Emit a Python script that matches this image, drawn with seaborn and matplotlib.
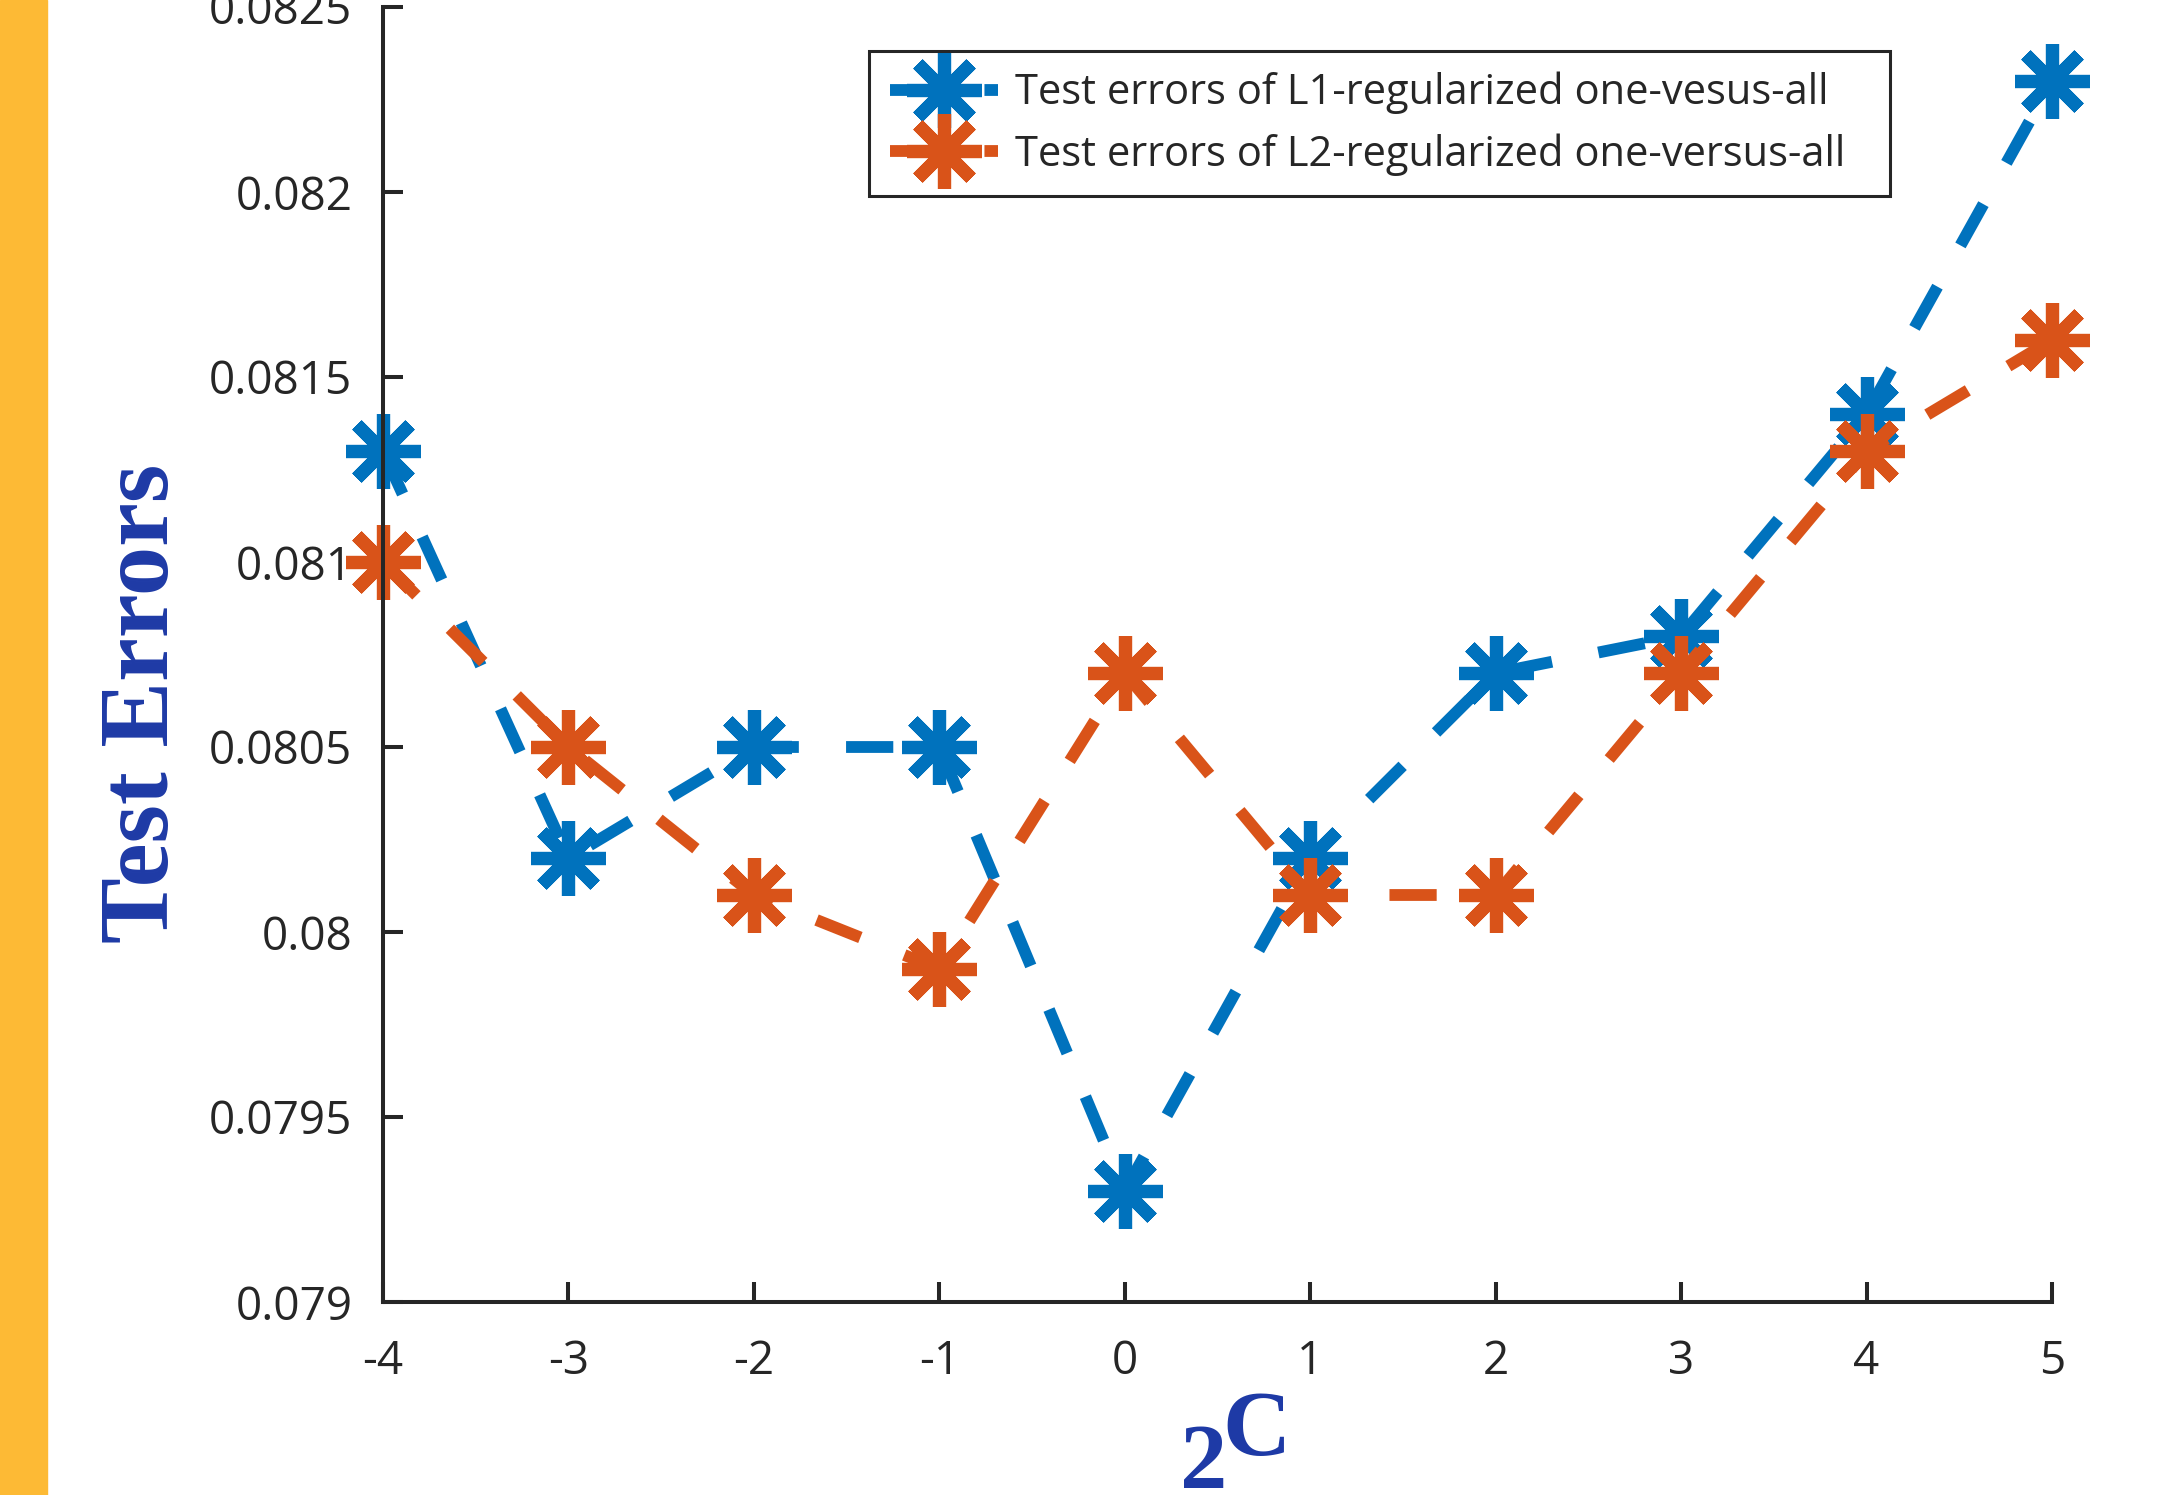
import matplotlib
matplotlib.use("Agg")
import matplotlib.pyplot as plt
import seaborn as sns
import pandas as pd
from matplotlib.lines import Line2D
from matplotlib.patches import Rectangle

# data
log2_c = [-4, -3, -2, -1, 0, 1, 2, 3, 4, 5]
l1_errors = [0.0813, 0.0802, 0.0805, 0.0805, 0.0793, 0.0802, 0.0807, 0.0808, 0.0814, 0.0823]
l2_errors = [0.0810, 0.0805, 0.0801, 0.0799, 0.0807, 0.0801, 0.0801, 0.0807, 0.0813, 0.0816]
series_names = [
    "Test errors of L1-regularized one-vesus-all",
    "Test errors of L2-regularized one-versus-all",
]
y_ticks = [0.079, 0.0795, 0.08, 0.0805, 0.081, 0.0815, 0.082, 0.0825]
y_tick_labels = ["0.079", "0.0795", "0.08", "0.0805", "0.081", "0.0815", "0.082", "0.0825"]

colors = ["#0072BD", "#D95319"]
axis_gray = "#262626"
label_blue = "#1E3AA6"

sns.set_theme(style="white")
plt.rcParams["font.family"] = ["Open Sans", "DejaVu Sans"]

df = pd.DataFrame({
    "c": log2_c * 2,
    "err": l1_errors + l2_errors,
    "series": [series_names[0]] * len(log2_c) + [series_names[1]] * len(log2_c),
})

fig = plt.figure(figsize=(21.67, 14.95), dpi=100)
fig.patches.append(Rectangle((0, 0), 47 / 2167, 1, transform=fig.transFigure,
                             color="#FDBA35", zorder=0))
ax = fig.add_axes([383 / 2167, 1 - 1302 / 1495, (2052 - 383) / 2167, (1302 - 7) / 1495])

marker = (8, 2, 0)
handles = []
for name, col in zip(series_names, colors):
    sub = df[df["series"] == name]
    sns.lineplot(data=sub, x="c", y="err", ax=ax, color=col, lw=8.5,
                 marker=marker, markersize=54, markeredgewidth=9.5,
                 markeredgecolor=col, clip_on=False, legend=False)
    line = ax.lines[-1]
    line.set_linestyle((0, (4, 4)))
    handles.append(Line2D([], [], color=col, lw=8.5, linestyle=(0, (4, 4)),
                          marker=marker, markersize=54, markeredgewidth=9.5,
                          markeredgecolor=col))

ax.set_xlim(-4, 5)
ax.set_ylim(0.079, 0.0825)
ax.set_xticks(log2_c)
ax.set_xticklabels([str(v) for v in log2_c])
ax.set_yticks(y_ticks)
ax.set_yticklabels(y_tick_labels)
ax.set_xlabel("")
ax.set_ylabel("")

for side in ["top", "right"]:
    ax.spines[side].set_visible(False)
for side in ["left", "bottom"]:
    ax.spines[side].set_color(axis_gray)
    ax.spines[side].set_linewidth(2.9)
ax.tick_params(direction="in", length=14.4, width=2.9, color=axis_gray,
               labelcolor=axis_gray, labelsize=33)
ax.tick_params(axis="x", pad=27)
ax.tick_params(axis="y", pad=22)
ax.tick_params(left=True, bottom=True)

# legend frame stretched to the width of the original box
leg = ax.legend(handles, series_names, loc="upper left",
                bbox_to_anchor=(0.291, 0.0, 0.612, 0.966), mode="expand",
                borderaxespad=0, fontsize=30, handlelength=2.6, handletextpad=0.4,
                labelspacing=0.45, borderpad=0.5, fancybox=False, framealpha=1)
leg.get_frame().set_edgecolor(axis_gray)
leg.get_frame().set_linewidth(2.2)

# axis labels in bold serif blue
fig.text(144 / 2167, 1 - 703 / 1495, "Test Errors", rotation=90, ha="center", va="center",
         fontsize=71, fontweight="bold", color=label_blue, family="Liberation Serif")
fig.text(1180 / 2167, 1 - 1488 / 1495, "2", ha="left", va="baseline",
         fontsize=68, fontweight="bold", color=label_blue, family="Liberation Serif")
fig.text(1222 / 2167, 1 - 1455 / 1495, "C", ha="left", va="baseline",
         fontsize=68, fontweight="bold", color=label_blue, family="Liberation Serif")

fig.savefig("out.png", dpi=100)
